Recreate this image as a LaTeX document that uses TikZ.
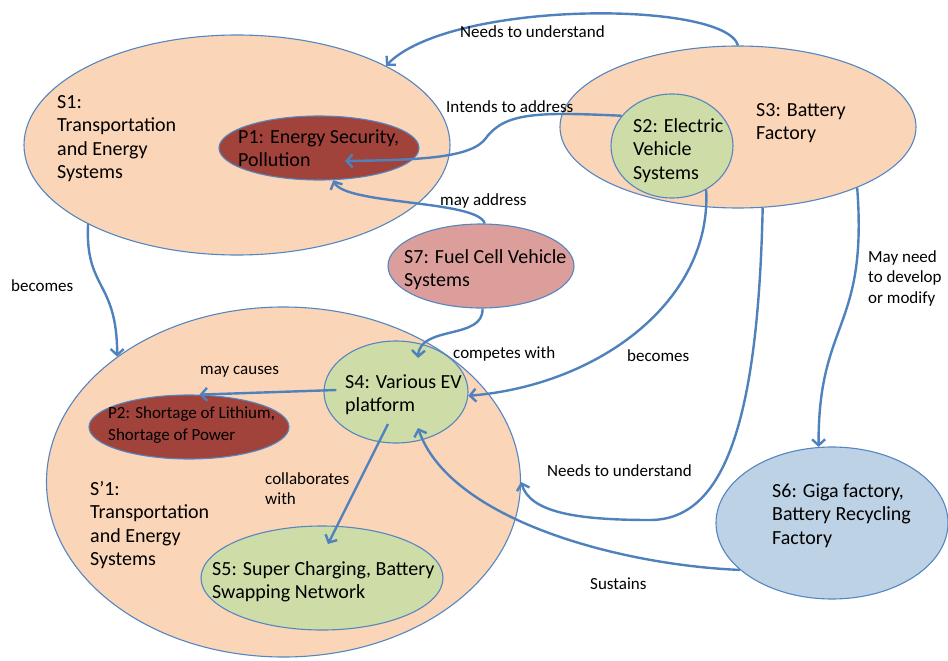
\documentclass[tikz,border=0pt]{standalone}
\usepackage{fontspec}
\setmainfont{Carlito}
\usetikzlibrary{shapes.geometric,arrows.meta,calc}
\definecolor{edgec}{RGB}{84,134,194}
\definecolor{arrowc}{RGB}{79,129,189}
\definecolor{peach}{RGB}{251,213,183}
\definecolor{probred}{RGB}{161,66,59}
\definecolor{evgreen}{RGB}{206,220,167}
\definecolor{fcpink}{RGB}{219,158,155}
\definecolor{gigablue}{RGB}{190,210,230}
\begin{document}
\begin{tikzpicture}[x=1pt,y=-1pt,
  ell/.style={ellipse,draw=edgec,line width=1.1pt,inner sep=0pt},
  txt/.style={anchor=base west,align=left,inner sep=0pt,font=\fontsize{20}{23.5}\selectfont},
  ptxt/.style={anchor=base west,align=left,inner sep=0pt,font=\fontsize{17}{22}\selectfont},
  lbl/.style={anchor=base west,align=left,inner sep=0pt,font=\fontsize{17}{20.5}\selectfont},
  conn/.style={draw=arrowc,line width=2.4pt,-{Straight Barb[length=6pt,width=13pt]}}]
\useasboundingbox (0,0) rectangle (948,661);
% ellipses
\node[ell,fill=peach,minimum width=426pt,minimum height=220pt] (S1) at (237,145) {};
\node[ell,fill=probred,minimum width=200pt,minimum height=64pt] (P1) at (319,148) {};
\node[ell,fill=peach,minimum width=356pt,minimum height=162pt] (S3) at (738,127) {};
\node[ell,fill=evgreen,minimum width=122pt,minimum height=104pt] (S2) at (672,146) {};
\node[ell,fill=fcpink,minimum width=186pt,minimum height=84pt] (S7) at (481,266) {};
\node[ell,fill=peach,minimum width=474pt,minimum height=350pt] (Sp1) at (283.5,482) {};
\node[ell,fill=probred,minimum width=200pt,minimum height=64pt] (P2) at (189,427) {};
\node[ell,fill=evgreen,minimum width=144pt,minimum height=102pt] (S4) at (396,392) {};
\node[ell,fill=evgreen,minimum width=242pt,minimum height=104pt] (S5) at (322,578) {};
\node[ell,fill=gigablue,minimum width=232pt,minimum height=152pt] (S6) at (832,523) {};
% connectors
\draw[conn] (S3.north) .. controls (725,0) and (450,0) .. (S1.28);
\draw[conn] (S2.149) .. controls (540,112) and (505,112) .. (486,138) .. controls (472,158) and (420,160) .. ($(P1)+(26,13)$);
\draw[conn] (S7.85) .. controls (478,200) and (345,205) .. (P1.-66);
\draw[conn] (S1.208) .. controls (85,290) and (117,280) .. (Sp1.143);
\draw[conn] (S7.-88) .. controls (484,340) and (420,325) .. ($(S4)+(22,-34)$);
\draw[conn] (S2.-52) .. controls (712,300) and (600,385) .. (S4.-3);
\draw[conn] (S3.-73) .. controls (758,420) and (725,520) .. (650,520) .. controls (575,520) and (530,512) .. (Sp1.east);
\draw[conn] (S3.-27) .. controls (868,330) and (818,320) .. (S6.100);
\draw[conn] (S6.207) .. controls (620,565) and (450,520) .. ($(S4)+(22,36)$);
\draw[conn] ($(S4.west)+(13,-2)$) -- (P2.72);
\draw[conn] ($(S4)+(-8,32)$) -- ($(S5)+(6,-34)$);
% node texts (anchor = baseline of last line)
\node[txt] (tS1) at (57,178.5) {S1:\\Transportation\\and Energy\\Systems};
\node[txt] (tP1) at (238,166.5) {P1: Energy Security,\\Pollution};
\node[txt] (tS3) at (756,139.5) {S3: Battery\\Factory};
\node[txt] (tS2) at (633,179) {S2: Electric\\Vehicle\\Systems};
\node[txt] (tS7) at (404,286.5) {S7: Fuel Cell Vehicle\\Systems};
\node[txt] (tSp1) at (90,565.5) {S’1:\\Transportation\\and Energy\\Systems};
\node[ptxt] (tP2) at (108,440) {P2: Shortage of Lithium,\\Shortage of Power};
\node[txt] (tS4) at (345,411.5) {S4: Various EV\\platform};
\node[txt] (tS5) at (212,598.5) {S5: Super Charging, Battery\\Swapping Network};
\node[txt] (tS6) at (772,544) {S6: Giga factory,\\Battery Recycling\\Factory};
% labels
\node[lbl] (l1) at (460,38) {Needs to understand};
\node[lbl] (l2) at (446,113) {Intends to address};
\node[lbl] (l3) at (440,205) {may address};
\node[lbl] (l4) at (11,291) {becomes};
\node[lbl] (l5) at (453,358) {competes with};
\node[lbl] (l6) at (627,361) {becomes};
\node[lbl] (l7) at (868,303) {May need\\to develop\\or modify};
\node[lbl] (l8) at (200,374) {may causes};
\node[lbl] (l9) at (265,504.5) {collaborates\\with};
\node[lbl] (l10) at (547,476) {Needs to understand};
\node[lbl] (l11) at (590,589) {Sustains};
\end{tikzpicture}
\end{document}
